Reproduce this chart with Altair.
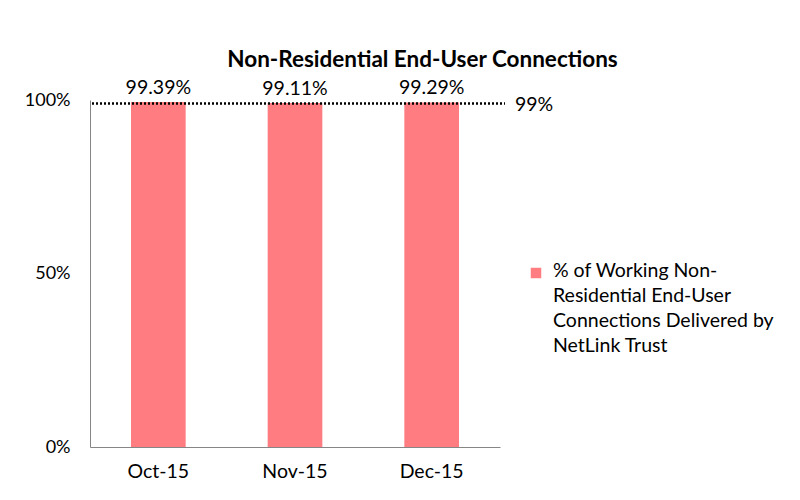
import altair as alt
import pandas as pd

months = ["Oct-15", "Nov-15", "Dec-15"]
values = [0.9939, 0.9911, 0.9929]
target = [0.99]
series_lines = ["% of Working Non-", "Residential End-User", "Connections Delivered by", "NetLink Trust"]
title_text = "Non-Residential End-User Connections"

series_name = "\n".join(series_lines)
df = pd.DataFrame({"month": months, "value": values, "series": [series_name] * 3})
tdf = pd.DataFrame({"target": target})
ldf = pd.DataFrame({"series": [series_name]})

FONT = "Lato"
PINK = "#FF7C80"
FS = 19.5

color_scale = alt.Scale(domain=[series_name], range=[PINK])

x = alt.X("month:N", sort=months, title=None,
          scale=alt.Scale(paddingInner=0.6, paddingOuter=0.3),
          axis=alt.Axis(labelAngle=0, labelFontSize=FS, labelFont=FONT, labelColor="black",
                        ticks=False, domainColor="#868686", labelPadding=15, grid=False))
y = alt.Y("value:Q", title=None,
          scale=alt.Scale(domain=[0, 1], nice=False),
          axis=alt.Axis(values=[0, 0.5, 1], format=".0%", labelFontSize=18, labelFont=FONT,
                        labelColor="black", ticks=False, domainColor="#868686",
                        labelPadding=20, grid=False))

bars = alt.Chart(df).mark_bar().encode(
    x=x, y=y,
    color=alt.Color("series:N", scale=color_scale, legend=None),
)

labels = alt.Chart(df).mark_text(dy=-14, fontSize=FS, font=FONT, color="black").encode(
    x=alt.X("month:N", sort=months), y="value:Q",
    text=alt.Text("value:Q", format=".2%"),
)

rule = alt.Chart(tdf).mark_rule(color="black", strokeDash=[2, 2], strokeWidth=2.5).encode(
    y="target:Q", x=alt.value(2), x2=alt.value(415)
)

rule_label = alt.Chart(tdf).mark_text(align="left", dx=0, dy=2, fontSize=FS, font=FONT, color="black").encode(
    y="target:Q", x=alt.value(425), text=alt.Text("target:Q", format=".0%")
)

legend_sym = alt.Chart(ldf).mark_square(size=110, opacity=1).encode(
    x=alt.value(446), y=alt.value(173),
    color=alt.Color("series:N", scale=color_scale, legend=None),
)
legend_txt = alt.Chart(ldf).mark_text(align="left", baseline="top", fontSize=FS, font=FONT,
                                      color="black", lineBreak="\n", lineHeight=25).encode(
    x=alt.value(463), y=alt.value(162), text="series:N",
)

chart = alt.layer(bars, labels, rule, rule_label, legend_sym, legend_txt).properties(
    width=410, height=347,
    title=alt.TitleParams(title_text, font=FONT, fontSize=22.5, fontWeight="bold", color="black",
                          anchor="start", dx=203, offset=7),
    padding={"left": 82, "top": 92, "right": 292, "bottom": 45},
    autosize=alt.AutoSizeParams(type="none"),
    background="white",
).configure_view(stroke=None)

chart.save("out.html", embed_options={"renderer": "svg", "actions": False})
